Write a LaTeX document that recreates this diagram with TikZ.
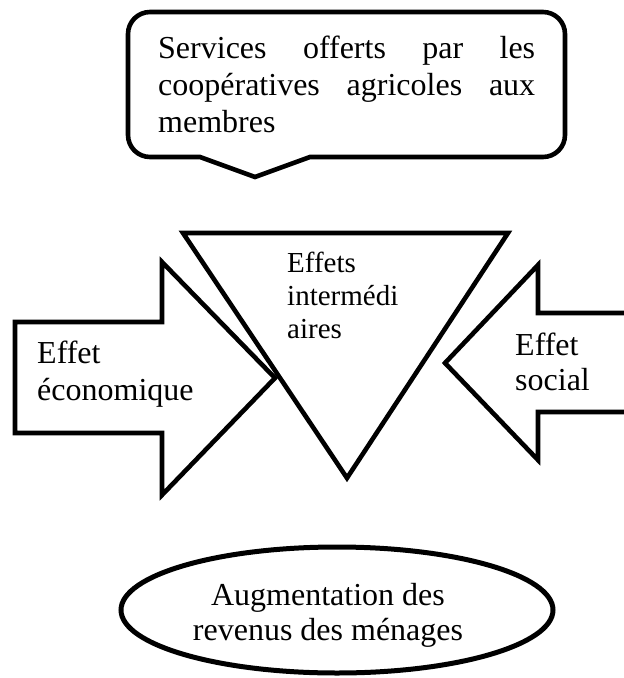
\documentclass[tikz,border=0pt]{standalone}
\usepackage{fontspec}
\setmainfont{Liberation Serif}
\begin{document}
\begin{tikzpicture}[x=1pt,y=-1pt,
  shape line/.style={line width=4.6pt,line join=miter,draw=black},
  big text/.style={inner sep=0pt,font=\fontsize{32}{37}\selectfont},
  small text/.style={inner sep=0pt,font=\fontsize{29}{33}\selectfont}]
\useasboundingbox (0,0) rectangle (624,678);
\begin{scope}
\clip (0,0) rectangle (624,678);
% callout
\draw[shape line] (255,177) -- (310,157) -- (543,157)
  arc[start angle=270,end angle=360,radius=22pt] -- (565,34)
  arc[start angle=0,end angle=90,radius=22pt] -- (150,12)
  arc[start angle=90,end angle=180,radius=22pt] -- (128,135)
  arc[start angle=180,end angle=270,radius=22pt] -- (200,157) -- cycle;
% left arrow
\draw[shape line] (15,322) -- (162,322) -- (162,262) -- (275,378) -- (162,495) -- (162,433) -- (15,433) -- cycle;
% right arrow
\draw[shape line] (640,313) -- (538,313) -- (538,265) -- (445,363) -- (538,460) -- (538,412) -- (640,412);
% triangle
\draw[shape line] (183,233) -- (508,233) -- (347,478) -- cycle;
% ellipse
\draw[line width=5pt] (337,610) ellipse [x radius=216pt, y radius=63pt];
\end{scope}
% callout text
\node[big text,anchor=base west] (c1) at (158,58) {\hbox to 377pt{Services\hfill offerts\hfill par\hfill les}};
\node[big text,anchor=base west] (c2) at (158,95) {\hbox to 377pt{coopératives\hfill agricoles\hfill aux}};
\node[big text,anchor=base west] (c3) at (158,132) {membres};
% triangle text
\node[small text,anchor=base west] (t1) at (287,272) {Effets};
\node[small text,anchor=base west] (t2) at (287,305) {intermédi};
\node[small text,anchor=base west] (t3) at (287,338) {aires};
% left arrow text
\node[big text,anchor=base west] (l1) at (37,363) {Effet};
\node[big text,anchor=base west] (l2) at (37,400) {économique};
% right arrow text
\node[big text,anchor=base west] (r1) at (515,355) {Effet};
\node[big text,anchor=base west] (r2) at (515,390) {social};
% ellipse text
\node[big text,anchor=base] (e1) at (328,605) {Augmentation des};
\node[big text,anchor=base] (e2) at (328,640) {revenus des ménages};
\end{tikzpicture}
\end{document}
